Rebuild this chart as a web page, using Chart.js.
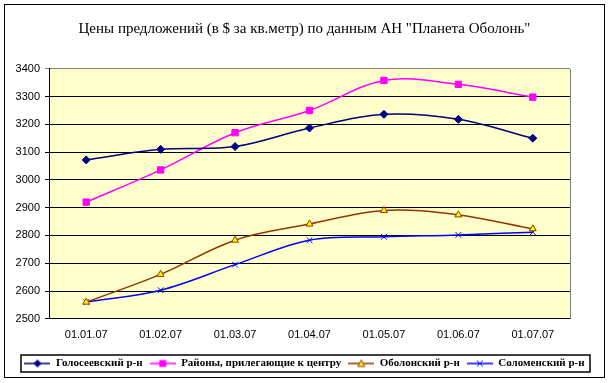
<!DOCTYPE html>
<html><head><meta charset="utf-8">
<script src="https://cdn.jsdelivr.net/npm/chart.js@4/dist/chart.umd.min.js"></script>
<style>html,body{margin:0;padding:0;background:#fff}#wrap{width:609px;height:383px}</style>
</head><body><div id="wrap"><canvas id="c" width="609" height="383"></canvas></div>
<script>
const categories = ["01.01.07","01.02.07","01.03.07","01.04.07","01.05.07","01.06.07","01.07.07"];
const golosiivskyi = [3072,3110,3120,3187,3236,3218,3150];
const raiony = [2920,3036,3170,3250,3358,3344,3298];
const obolonskyi = [2560,2660,2783,2841,2890,2874,2824];
const solomenskyi = [2560,2603,2695,2783,2795,2802,2812];
const seriesNames = ["Голосеевский р-н","Районы, прилегающие к центру","Оболонский р-н","Соломенский р-н"];
const yMin = 2500, yMax = 3400, yStep = 100;
const titleText = 'Цены предложений (в $ за кв.метр) по данным АН "Планета Оболонь"';

function legendImg(color, drawMarker){
  const c = document.createElement('canvas'); c.width = 26; c.height = 10;
  const g = c.getContext('2d');
  g.strokeStyle = color; g.lineWidth = 1.5;
  g.beginPath(); g.moveTo(0,5); g.lineTo(26,5); g.stroke();
  drawMarker(g, 13, 5);
  return c;
}
const mk = {
  diamond: (g,x,y)=>{g.fillStyle='#000080';g.beginPath();g.moveTo(x,y-4);g.lineTo(x+4,y);g.lineTo(x,y+4);g.lineTo(x-4,y);g.closePath();g.fill();},
  square: (g,x,y)=>{g.fillStyle='#FF00FF';g.fillRect(x-3.5,y-3.5,7,7);},
  tri: (g,x,y)=>{g.fillStyle='#FFFF00';g.strokeStyle='#993300';g.lineWidth=1;g.beginPath();g.moveTo(x,y-3.5);g.lineTo(x+3.5,y+3);g.lineTo(x-3.5,y+3);g.closePath();g.fill();g.stroke();},
  cross: (g,x,y)=>{g.strokeStyle='#0000FF';g.lineWidth=1;g.beginPath();g.moveTo(x-3,y-3);g.lineTo(x+3,y+3);g.moveTo(x+3,y-3);g.lineTo(x-3,y+3);g.stroke();}
};
const legendImgs = [legendImg('#000080',mk.diamond),legendImg('#FF00FF',mk.square),legendImg('#993300',mk.tri),legendImg('#0000FF',mk.cross)];

const frame = {
  id:'frame',
  beforeDraw(chart){
    const {ctx, chartArea:a} = chart;
    ctx.save(); ctx.fillStyle='#FFFFCC'; ctx.fillRect(a.left,a.top,a.right-a.left,a.bottom-a.top); ctx.restore();
  },
  afterDraw(chart){
    const {ctx, chartArea:a} = chart;
    ctx.save();
    ctx.strokeStyle='#808080'; ctx.lineWidth=1;
    ctx.beginPath(); ctx.moveTo(Math.round(a.right)+0.5, Math.round(a.top)); ctx.lineTo(Math.round(a.right)+0.5, Math.round(a.bottom)); ctx.stroke();
    ctx.strokeStyle='#000'; ctx.strokeRect(4.5,4.5,600,373);
    const hb = chart.legend.legendHitBoxes;
    if (hb && hb.length){
      let l=Infinity,r=-Infinity,t=Infinity,b=-Infinity;
      hb.forEach(h=>{l=Math.min(l,h.left);r=Math.max(r,h.left+h.width);t=Math.min(t,h.top);b=Math.max(b,h.top+h.height);});
      ctx.lineWidth=1.5;
      ctx.strokeRect(Math.round(l)-3, Math.round(t)-3, Math.round(r-l)+9, Math.round(b-t)+6);
    }
    ctx.restore();
  }
};

const ds = (label, data, color, style, opts) => Object.assign({
  label, data, borderColor: color, backgroundColor: color, borderWidth: 1.5,
  pointStyle: style, pointRadius: 3.5, pointBorderWidth: 1, pointBorderColor: color, pointBackgroundColor: color,
  tension: 0.35, fill: false
}, opts||{});

new Chart(document.getElementById('c'), {
  type: 'line',
  data: {
    labels: categories,
    datasets: [
      ds(seriesNames[0], golosiivskyi, '#000080', 'rectRot', {pointRadius: 4}),
      ds(seriesNames[1], raiony, '#FF00FF', 'rect', {pointRadius: 4.5}),
      ds(seriesNames[2], obolonskyi, '#993300', 'triangle', {pointBackgroundColor:'#FFFF00', pointRadius: 4}),
      ds(seriesNames[3], solomenskyi, '#0000FF', 'crossRot', {pointRadius: 4})
    ]
  },
  options: {
    responsive: false, animation: false, devicePixelRatio: 1,
    layout: { padding: { left: 0, right: 0, top: 0, bottom: 4 } },
    plugins: {
      tooltip: {enabled:false},
      title: { display: true, text: titleText, color: '#000',
        font: { family: '"Liberation Serif"', size: 15, weight: 'normal' },
        padding: { top: 20.5, bottom: 30.3 } },
      legend: { position: 'bottom', align: 'center',
        labels: { color:'#000', font: { family: '"Liberation Serif"', size: 11, weight: 'bold' },
          usePointStyle: true, pointStyleWidth: 26, padding: 7,
          generateLabels(chart){
            return chart.data.datasets.map((d,i)=>({text:d.label, pointStyle: legendImgs[i], fontColor:'#000', lineWidth:0, strokeStyle:'transparent', fillStyle:'transparent', datasetIndex:i, hidden:false}));
          } } }
    },
    scales: {
      x: { offset: true, grid: { display: false }, border: { color: '#000', width: 1 },
        afterFit(s){ s.height += 7; },
        ticks: { color:'#000', font: { family: '"Liberation Sans"', size: 11 }, padding: 2, maxRotation: 0 } },
      y: { min: yMin, max: yMax,
        afterFit(s){ s.width = 49; },
        grid: { color: c => c.tick && c.tick.value === yMax ? '#808080' : '#000', tickLength: 4, lineWidth: 1 },
        border: { color: '#000', width: 1 },
        ticks: { stepSize: yStep, color:'#000', font: { family: '"Liberation Sans"', size: 11 }, padding: 5,
          callback: v => String(v) } },
      yRight: { position: 'right', display: true, min: yMin, max: yMax,
        afterFit(s){ s.width = 39; },
        grid: { display: false, drawOnChartArea: false }, border: { display: false },
        ticks: { display: false } }
    }
  },
  plugins: [frame]
});
</script></body></html>
